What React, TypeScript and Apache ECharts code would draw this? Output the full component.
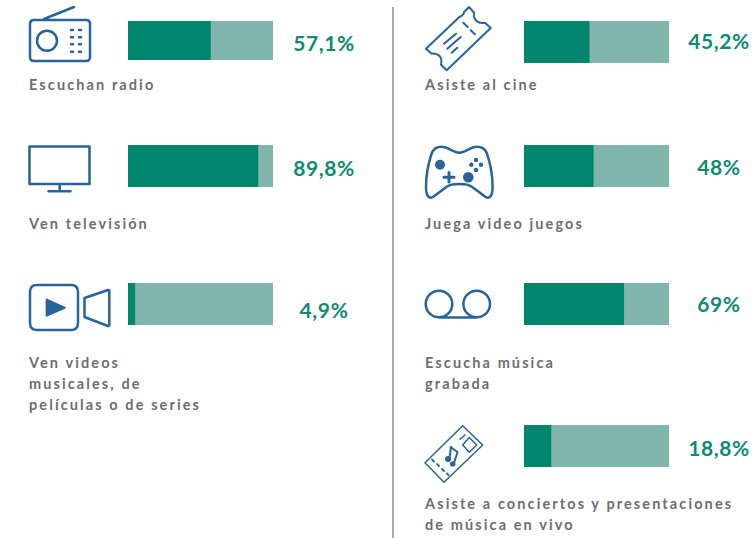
import React, { useEffect, useRef } from "react";
import * as echarts from "echarts";

const activities = [
  "Escuchan radio",
  "Ven televisión",
  "Ven videos\nmusicales, de\npelículas o de series",
  "Asiste al cine",
  "Juega video juegos",
  "Escucha música\ngrabada",
  "Asiste a conciertos y presentaciones\nde música en vivo",
];
const values = [57.1, 89.8, 4.9, 45.2, 48, 69, 18.8];
const valueLabels = ["57,1%", "89,8%", "4,9%", "45,2%", "48%", "69%", "18,8%"];

const DARK = "#00866f";
const LIGHT = "#7fb5ac";
const VALUE_TEXT = "#0f8a74";
const LABEL_TEXT = "#6d6e71";
const ICON = "#28639a";

// Page layout of each panel (independent of the data).
const layout = [
  { x: 128, top: 21, h: 39, valueX: 324, valueY: 42.5, labelX: 29, labelY: 74 },
  { x: 128, top: 145, h: 42, valueX: 324, valueY: 167, labelX: 29, labelY: 213 },
  { x: 128, top: 283, h: 42, valueX: 324, valueY: 309, labelX: 29, labelY: 352 },
  { x: 524, top: 21, h: 42, valueX: 719, valueY: 40.5, labelX: 425, labelY: 74 },
  { x: 524, top: 145, h: 42, valueX: 719, valueY: 166.5, labelX: 425, labelY: 213 },
  { x: 524, top: 283, h: 42, valueX: 719, valueY: 303, labelX: 425, labelY: 352 },
  { x: 524, top: 425, h: 42, valueX: 719, valueY: 447, labelX: 425, labelY: 493 },
];
const BAR_W = 145;

const iconPaths: Record<string, { d: string; fill?: boolean; w?: number }> = {
  radio: { d: "M34,20 H86 Q90,20 90,24 V57 Q90,61 86,61 H34 Q30,61 30,57 V24 Q30,20 34,20 Z M44,19 L74,7 M57,40.7 A10,10 0 1 1 37,40.7 A10,10 0 1 1 57,40.7 Z" },
  radioDots: { d: "M71,30 h2 M79,30 h2 M71,37.3 h2 M79,37.3 h2 M71,44.3 h2 M79,44.3 h2 M71,51.7 h2 M79,51.7 h2", w: 2.5 },
  tv: { d: "M29.5,146.5 H89.5 V184 H29.5 Z M59.7,184 V191.3 M48.5,191.3 H70.5" },
  videoBox: { d: "M37,285 H71 Q78,285 78,292 V323 Q78,330 71,330 H37 Q30,330 30,323 V292 Q30,285 37,285 Z M84.5,298 L108,290 Q109.3,289.6 109.3,291 V325 Q109.3,326.4 108,326 L84.5,317 Z" },
  play: { d: "M46.5,298.5 L65.5,307 Q66.5,307.7 65.5,308.4 L46.5,316.7 Q45.7,317 45.7,316 V299.2 Q45.7,298.2 46.5,298.5 Z", fill: true },
  ticket: { d: "M469,7 L474,12.7 C473,20 478,24 485,22.7 L490.7,28 L446.7,70.3 L441,64.7 C443,57 438,53 431.7,53.7 L426,48.7 L459.3,17 Q464,15 464,12 Z M463.3,22.7 L467.7,27 M470.7,30.3 L475,34.3 M444,43.7 L456,33.7 M447.3,48.7 L460.7,37 M451.7,52.7 L457.3,47.7", w: 2 },
  pad: { d: "M459.3,152.7 C453.3,152.7 448.3,146.7 441.7,146.7 C436.7,146.7 433.3,149.3 431.7,153.3 C428.3,163.3 426,175 426,186.7 C426,196.7 429.3,199.3 433.3,196.7 L446.7,186.7 C450,184.3 455,184 459.3,184 C463.6,184 468.6,184.3 471.9,186.7 L485.3,196.7 C489.3,199.3 492.6,196.7 492.6,186.7 C492.6,175 490.3,163.3 486.9,153.3 C485.3,149.3 481.9,146.7 476.9,146.7 C470.3,146.7 465.3,152.7 459.3,152.7 Z" },
  padPlus: { d: "M444,177.3 H454 M449,172.5 V182", w: 3 },
  padDots: { d: "M445,164.7 A5,5 0 1 1 435,164.7 A5,5 0 1 1 445,164.7 Z M473.6,177.3 A5.3,5.3 0 1 1 463,177.3 A5.3,5.3 0 1 1 473.6,177.3 Z M478.2,160 A2.2,2.2 0 1 1 473.8,160 A2.2,2.2 0 1 1 478.2,160 Z M473.5,164.7 A2.2,2.2 0 1 1 469.1,164.7 A2.2,2.2 0 1 1 473.5,164.7 Z M483.2,164.7 A2.2,2.2 0 1 1 478.8,164.7 A2.2,2.2 0 1 1 483.2,164.7 Z M478.2,170 A2.2,2.2 0 1 1 473.8,170 A2.2,2.2 0 1 1 478.2,170 Z", fill: true },
  tape: { d: "M452.3,304 A13.3,13.3 0 1 1 425.7,304 A13.3,13.3 0 1 1 452.3,304 Z M490,304 A13.3,13.3 0 1 1 463.4,304 A13.3,13.3 0 1 1 490,304 Z M439,317.5 H476.7" },
  concert: { d: "M462.7,425.7 L482.7,445 L444,482.3 L425,462.7 Z M462.7,445 L469.3,437.5 L476.7,445 L469.3,452.3 Z M460,439.3 L465,435", w: 1.5 },
  concertDots: { d: "M432,459.5 L434,461.5 M437,464 L439,466 M442,469 L444,471 M447,473.5 L448.5,475", w: 1.8 },
  note: { d: "M450.5,447 L457.5,452 M451,447 L449.5,458 M457.5,452 L454,463", w: 2 },
  noteHeads: { d: "M451,459 A3,3 0 1 1 445,459 A3,3 0 1 1 451,459 Z M455.5,464 A2.8,2.8 0 1 1 449.9,464 A2.8,2.8 0 1 1 455.5,464 Z", fill: true },
};

Object.keys(iconPaths).forEach((name) => {
  echarts.graphic.registerShape("icon_" + name, echarts.graphic.extendPath(iconPaths[name].d, {}));
});

export default function App() {
  const ref = useRef<HTMLDivElement>(null);
  useEffect(() => {
    document.body.style.margin = "0";
    const chart = echarts.init(ref.current!, undefined, { renderer: "svg" });
    const grid = layout.map((p) => ({ left: p.x, top: p.top, width: BAR_W, height: p.h }));
    const xAxis = layout.map((_, i) => ({ gridIndex: i, type: "value", min: 0, max: 100, show: false }));
    const yAxis = layout.map((_, i) => ({ gridIndex: i, type: "category", data: [activities[i]], show: false }));
    const series: any[] = [];
    layout.forEach((p, i) => {
      series.push({
        type: "bar",
        xAxisIndex: i,
        yAxisIndex: i,
        data: [100],
        barWidth: "100%",
        barGap: "-100%",
        silent: true,
        itemStyle: { color: LIGHT },
        label: {
          show: true,
          formatter: () => valueLabels[i],
          position: [p.valueX - p.x, p.valueY - p.top],
          align: "center",
          verticalAlign: "middle",
          color: VALUE_TEXT,
          fontFamily: "Lato",
          fontWeight: 700,
          fontSize: 21,
        },
      });
      series.push({
        type: "bar",
        xAxisIndex: i,
        yAxisIndex: i,
        data: [values[i]],
        barWidth: "100%",
        barGap: "-100%",
        silent: true,
        itemStyle: { color: DARK },
      });
    });
    const graphic: any[] = [
      { type: "line", shape: { x1: 393, y1: 7, x2: 393, y2: 538 }, style: { stroke: "#8f8f8f", lineWidth: 1.5 } },
      ...activities.map((t, i) => ({
        type: "text",
        x: layout[i].labelX,
        y: layout[i].labelY,
        style: {
          text: t,
          fill: LABEL_TEXT,
          font: "700 14.5px Lato",
          lineHeight: 21,
          verticalAlign: "top",
        },
      })),
      ...Object.keys(iconPaths).map((name) => {
        const ic = iconPaths[name];
        return {
          type: "icon_" + name,
          style: ic.fill
            ? { fill: ICON, stroke: "none" }
            : { fill: "none", stroke: ICON, lineWidth: ic.w ?? 2.5, lineCap: "round", lineJoin: "round" },
        };
      }),
    ];
    chart.setOption({ animation: false, grid, xAxis, yAxis, series, graphic });
    ref.current!.querySelectorAll("text").forEach((el) => {
      el.style.letterSpacing = valueLabels.includes(el.textContent || "") ? "0.6px" : "2.1px";
    });
    return () => chart.dispose();
  }, []);
  return (
    <div
      ref={ref}
      style={{ position: "absolute", left: 0, top: 0, width: 754, height: 538, background: "#fff" }}
    />
  );
}
